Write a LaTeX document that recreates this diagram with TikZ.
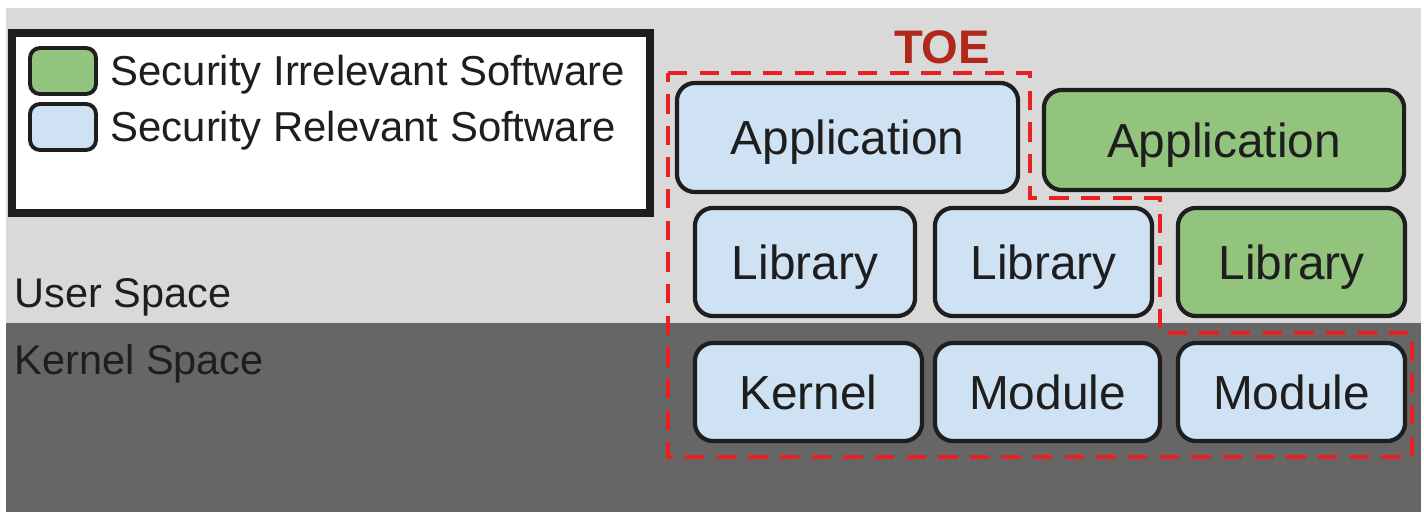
\documentclass[tikz,border=0pt]{standalone}
\usepackage{fontspec}
\setmainfont{Liberation Sans}
\usepackage{tikz}
\usetikzlibrary{positioning}
\definecolor{userbg}{HTML}{D9D9D9}
\definecolor{kernbg}{HTML}{666666}
\definecolor{relblue}{HTML}{CFE2F3}
\definecolor{irrgreen}{HTML}{93C47D}
\definecolor{toered}{HTML}{E8201F}
\definecolor{toetext}{HTML}{B0281A}
\definecolor{ink}{HTML}{1E1E1E}
\tikzset{
    swbox/.style={draw=ink, line width=1.2pt, rounded corners=0.18cm, text=ink,
        font=\fontsize{13.6}{15}\selectfont, inner sep=0pt, text height=9.8pt, text depth=0pt},
    relevant/.style={swbox, fill=relblue},
    irrelevant/.style={swbox, fill=irrgreen},
    keyswatch/.style={draw=ink, line width=1.1pt, rounded corners=0.1cm,
        minimum width=0.66cm, minimum height=0.46cm, inner sep=0pt},
    keytext/.style={text=ink, font=\fontsize{11.9}{13}\selectfont, anchor=west, inner sep=0pt,
        text height=8.5pt, text depth=0pt}
}

\begin{document}
\begin{tikzpicture}[x=0.01cm,y=-0.01cm]
\useasboundingbox (0,0) rectangle (1424,512);
\fill[userbg] (6,8) rectangle (1421,323);
\fill[kernbg] (6,323) rectangle (1421,512);
\draw[ink, line width=2pt, fill=white] (12,33) rectangle (650,213);
\node[keyswatch, fill=irrgreen] (keyirr) at (63,71) {};
\node[keyswatch, fill=relblue] (keyrel) at (63,127) {};
\node[keytext, right=0.12cm of keyirr] (keyirrtext) {Security Irrelevant Software};
\node[keytext, right=0.12cm of keyrel] (keyreltext) {Security Relevant Software};
\node[keytext, font=\fontsize{11.8}{13}\selectfont] (user) at (14,293) {User Space};
\node[keytext, font=\fontsize{11.8}{13}\selectfont] (kernsp) at (14,360) {Kernel Space};
\node[relevant, minimum width=3.41cm, minimum height=1.09cm] (appA) at (847.5,137.5) {Application};
\node[irrelevant, minimum width=3.60cm, minimum height=1.00cm] (appB) at (1224,140) {Application};
\node[relevant, minimum width=2.20cm, minimum height=1.08cm] (libA) at (805,262) {Library};
\node[relevant, minimum width=2.17cm, minimum height=1.08cm] (libB) at (1043.5,262) {Library};
\node[irrelevant, minimum width=2.27cm, minimum height=1.08cm] (libC) at (1291.5,262) {Library};
\node[relevant, minimum width=2.27cm, minimum height=0.98cm] (kern) at (808.5,392) {Kernel};
\node[relevant, minimum width=2.25cm, minimum height=0.98cm] (modA) at (1047.5,392) {Module};
\node[relevant, minimum width=2.27cm, minimum height=0.98cm] (modB) at (1291.5,392) {Module};
\draw[toered, line width=1.2pt, dash pattern=on 5.5pt off 3.5pt]
    (668,73) -- (1030,73) -- (1030,198) -- (1160,198) -- (1160,333)
    -- (1412,333) -- (1412,457) -- (668,457) -- cycle;
\node[text=toetext, font=\bfseries\fontsize{13.4}{15}\selectfont] (toe) at (942,47) {TOE};
\end{tikzpicture}
\end{document}
